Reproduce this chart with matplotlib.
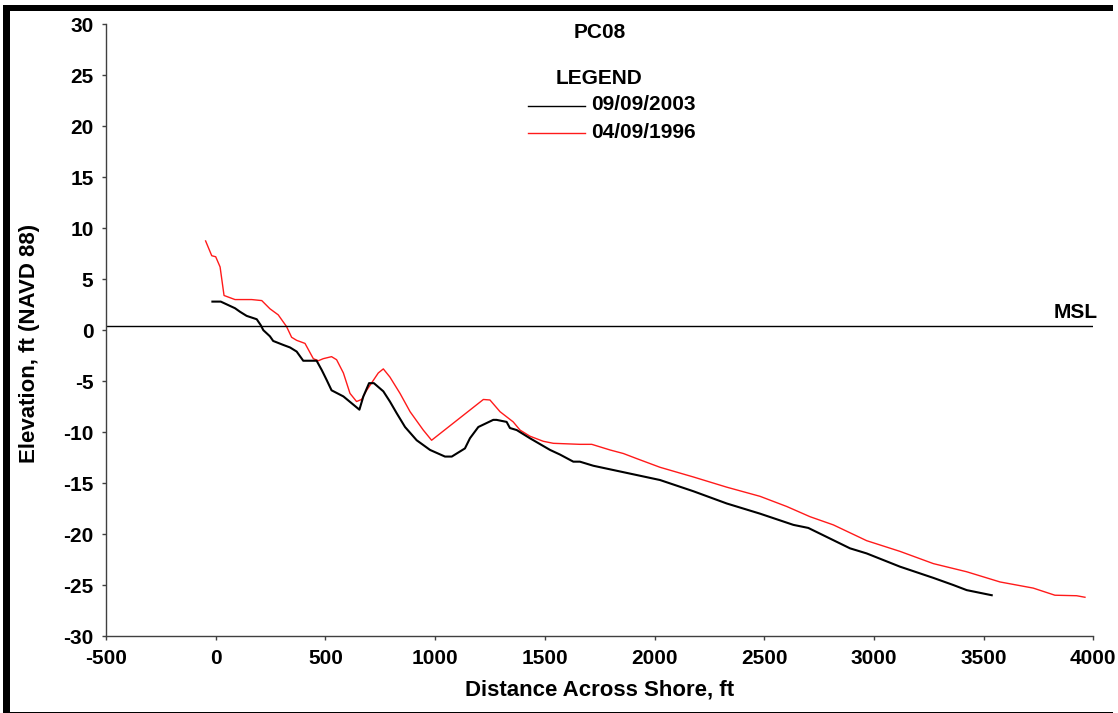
import matplotlib.pyplot as plt
from matplotlib.patches import Rectangle

plt.rcParams['font.family'] = ['Liberation Sans', 'DejaVu Sans']
plt.rcParams['font.weight'] = 'bold'
plt.rcParams['axes.unicode_minus'] = False

# profile PC08, survey of 09/09/2003
dist_2003 = [-15, 23, 88, 111, 141, 187, 205, 217, 247, 262, 308, 339, 369, 399, 407,
             460, 483, 490, 506, 528, 582, 655, 673, 699, 721, 764, 794, 825, 863, 916,
             977, 1045, 1076, 1136, 1159, 1197, 1265, 1280, 1326, 1341, 1372, 1432,
             1524, 1569, 1630, 1660, 1721, 1873, 2025, 2177, 2329, 2481, 2633, 2701,
             2815, 2891, 2967, 3119, 3271, 3362, 3423, 3514, 3537]
elev_2003 = [2.8, 2.8, 2.15, 1.8, 1.4, 1.07, 0.5, 0.0, -0.6, -1.06, -1.45, -1.7, -2.1,
             -3.0, -3.0, -3.0, -3.9, -4.2, -4.9, -5.9, -6.5, -7.8, -6.5, -5.2, -5.2,
             -6.0, -7.0, -8.15, -9.5, -10.8, -11.75, -12.4, -12.4, -11.6, -10.6, -9.5,
             -8.8, -8.8, -9.0, -9.6, -9.8, -10.6, -11.75, -12.2, -12.9, -12.9, -13.3,
             -14.0, -14.7, -15.8, -17.0, -18.0, -19.1, -19.4, -20.6, -21.4, -21.9,
             -23.2, -24.3, -25.0, -25.5, -25.9, -26.0]

# profile PC08, survey of 04/09/1996
dist_1996 = [-46, -18, 0, 20, 38, 88, 164, 210, 247, 285, 323, 346, 369, 407, 445, 468,
             490, 528, 551, 582, 612, 642, 665, 688, 741, 764, 794, 840, 886, 946, 984,
             1220, 1250, 1296, 1356, 1387, 1432, 1493, 1539, 1660, 1714, 1797, 1858,
             1919, 2025, 2177, 2329, 2481, 2603, 2709, 2815, 2967, 3119, 3271, 3423,
             3575, 3726, 3825, 3924, 3962]
elev_1996 = [8.75, 7.3, 7.2, 6.2, 3.4, 3.0, 3.0, 2.9, 2.1, 1.5, 0.35, -0.7, -1.0, -1.3,
             -2.8, -3.0, -2.8, -2.6, -2.9, -4.2, -6.2, -7.0, -6.8, -5.9, -4.2, -3.8,
             -4.6, -6.2, -8.0, -9.8, -10.8, -6.8, -6.85, -8.0, -9.0, -9.8, -10.4,
             -10.9, -11.1, -11.2, -11.2, -11.75, -12.1, -12.6, -13.45, -14.4, -15.4,
             -16.3, -17.3, -18.3, -19.1, -20.65, -21.7, -22.9, -23.7, -24.7, -25.3,
             -26.0, -26.05, -26.2]

msl = 0.4
x_ticks = [-500, 0, 500, 1000, 1500, 2000, 2500, 3000, 3500, 4000]
y_ticks = [-30, -25, -20, -15, -10, -5, 0, 5, 10, 15, 20, 25, 30]

FS = 15
W, H = 1118, 713
fig = plt.figure(figsize=(W / 100, H / 100), dpi=100)
ax = fig.add_axes([106 / W, 1 - 636 / H, 987.3 / W, 611.7 / H])

ax.plot(dist_1996, elev_1996, color='#ff1a1a', lw=1.0)
ax.plot(dist_2003, elev_2003, color='black', lw=1.5)
ax.axhline(msl, color='black', lw=1.0)
ax.text(4020, 1.75, 'MSL', ha='right', va='center', fontsize=FS,
        fontweight='bold', clip_on=False)

ax.set_xlim(-500, 4000)
ax.set_ylim(-30, 30)
ax.set_xticks(x_ticks)
ax.set_yticks(y_ticks)
ax.tick_params(labelsize=FS, length=3, width=1, color='#404040')
ax.tick_params(axis='x', pad=6)
ax.tick_params(axis='y', pad=6)
for side in ['top', 'right']:
    ax.spines[side].set_visible(False)
for side in ['left', 'bottom']:
    ax.spines[side].set_color('#404040')
    ax.spines[side].set_linewidth(1.0)

# titles and legend block
fig.text(600 / W, 1 - 32 / H, 'PC08', ha='center', va='center', fontsize=FS, fontweight='bold')
fig.text(599 / W, 1 - 79 / H, 'LEGEND', ha='center', va='center', fontsize=FS, fontweight='bold')
fig.add_artist(plt.Line2D([528 / W, 585 / W], [1 - 106 / H, 1 - 106 / H], color='black', lw=1.0))
fig.add_artist(plt.Line2D([528 / W, 585 / W], [1 - 132.5 / H, 1 - 132.5 / H], color='#ff1a1a', lw=1.0))
fig.text(591 / W, 1 - 105 / H, '09/09/2003', ha='left', va='center', fontsize=FS, fontweight='bold')
fig.text(591 / W, 1 - 133 / H, '04/09/1996', ha='left', va='center', fontsize=FS, fontweight='bold')

fig.text(600 / W, 1 - 690 / H, 'Distance Across Shore, ft', ha='center', va='center',
         fontsize=16, fontweight='bold')
fig.text(30 / W, 1 - 343 / H, 'Elevation, ft (NAVD 88)', ha='center', va='center',
         rotation=90, fontsize=16, fontweight='bold')

# frame around the figure
fig.add_artist(Rectangle((3 / W, 1 - 11 / H), 1110 / W, 6 / H, transform=fig.transFigure,
                         color='black', lw=0))
fig.add_artist(Rectangle((3 / W, 0), 7 / W, 1 - 5 / H, transform=fig.transFigure,
                         color='black', lw=0))
fig.add_artist(Rectangle((3 / W, 0), 1110 / W, 1.5 / H, transform=fig.transFigure,
                         color='black', lw=0))

fig.savefig('out.png', dpi=100)
